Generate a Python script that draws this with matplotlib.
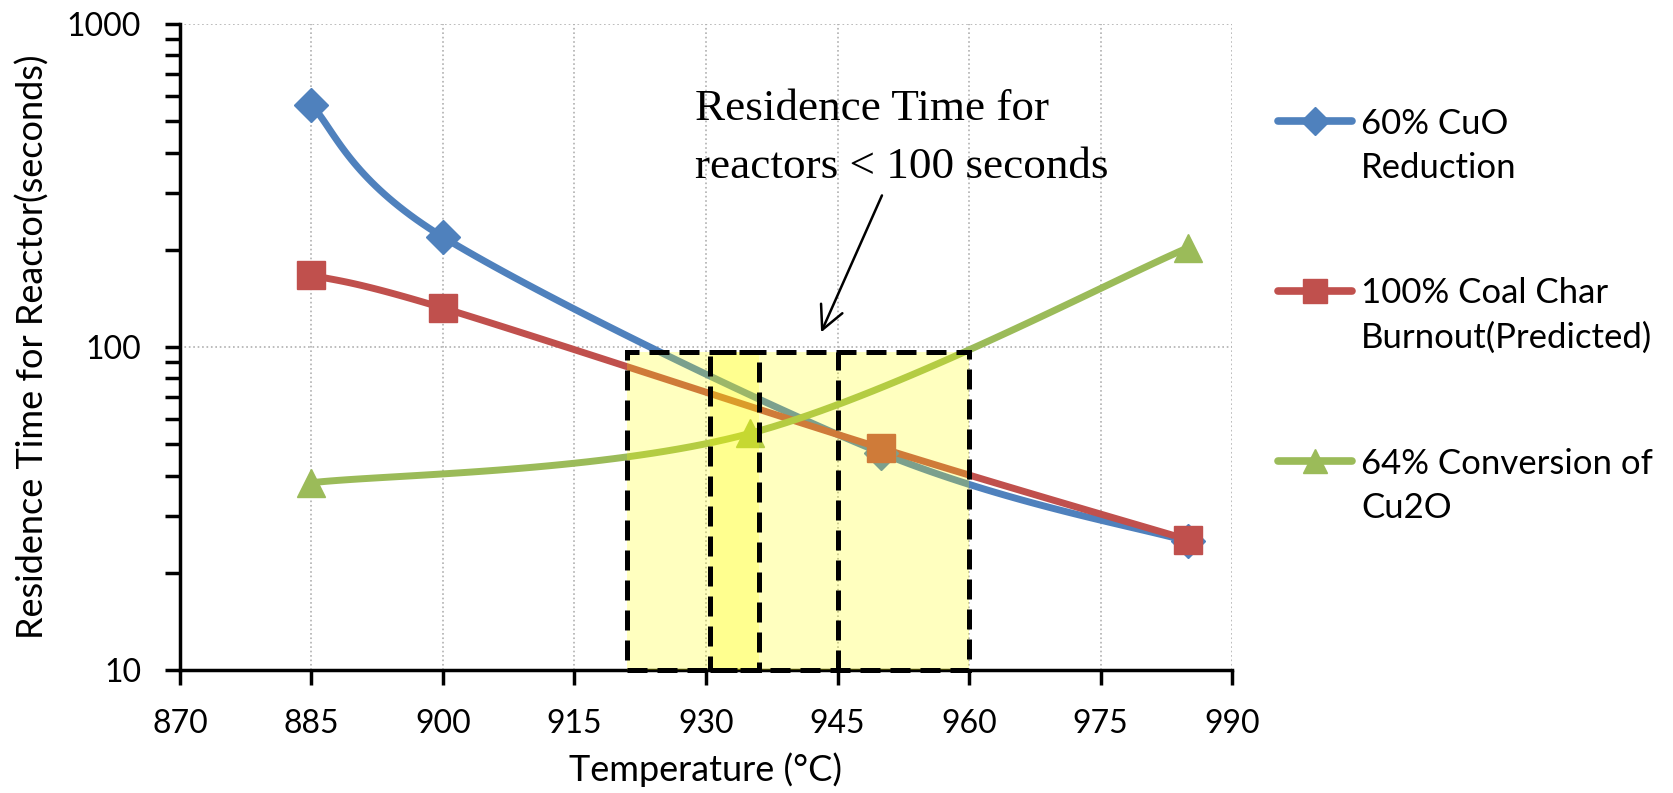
import matplotlib.pyplot as plt
from matplotlib.lines import Line2D
from matplotlib.patches import Rectangle
import numpy as np

# data (temperature in degC, residence time in seconds)
temp_cuo = [885, 900, 950, 985]
time_cuo = [560, 219, 47, 25]

temp_char = [885, 900, 950, 985]
time_char = [167, 132, 48.6, 25.3]

temp_cu2o = [885, 935, 985]
time_cu2o = [38, 54, 203]

labels = ["60% CuO\nReduction", "100% Coal Char\nBurnout(Predicted)", "64% Conversion of\nCu2O"]
colors = ["#4F81BD", "#C0504D", "#9BBB59"]
markers = ["D", "s", "^"]
marker_sizes = [17, 20, 20]

# highlighted windows (x ranges) below 100 s, plus the divider inside the big one
windows = [(921, 936), (930.5, 960)]
dividers = [945]
window_top = 96.7

plt.rcParams["font.family"] = ["Lato", "DejaVu Sans"]


def smooth(xs, ys, n=40):
    """excel-like smoothed line: bezier through the points, done in log-y space"""
    x = np.asarray(xs, float)
    y = np.log10(np.asarray(ys, float))
    px = np.concatenate([[x[0]], x, [x[-1]]])
    py = np.concatenate([[y[0]], y, [y[-1]]])
    out_x, out_y = [], []
    t = np.linspace(0, 1, n)
    for i in range(1, len(px) - 2):
        p0 = np.array([px[i], py[i]])
        p3 = np.array([px[i + 1], py[i + 1]])
        p1 = p0 + (p3 - np.array([px[i - 1], py[i - 1]])) / 6
        p2 = p3 - (np.array([px[i + 2], py[i + 2]]) - p0) / 6
        b = ((1 - t) ** 3)[:, None] * p0 + (3 * (1 - t) ** 2 * t)[:, None] * p1 \
            + (3 * (1 - t) * t ** 2)[:, None] * p2 + (t ** 3)[:, None] * p3
        out_x.extend(b[:, 0])
        out_y.extend(b[:, 1])
    return np.array(out_x), 10 ** np.array(out_y)


fig = plt.figure(figsize=(16.74, 7.93), dpi=100)
ax = fig.add_axes([180 / 1674, 1 - 670 / 793, (1232 - 180) / 1674, (670 - 24) / 793])

series = [(temp_cuo, time_cuo), (temp_char, time_char), (temp_cu2o, time_cu2o)]
for (xs, ys), c, m, ms in zip(series, colors, markers, marker_sizes):
    sx, sy = smooth(xs, ys)
    ax.plot(sx, sy, color=c, lw=5, solid_capstyle="round", zorder=3)
    ax.plot(xs, ys, ls="none", marker=m, ms=ms, color=c, mec=c, zorder=4)

# yellow windows sit on top of the lines (they tint them)
dash = (0, (4, 2))
for x0, x1 in windows:
    ax.add_patch(Rectangle((x0, 10), x1 - x0, window_top - 10, facecolor="yellow",
                           alpha=0.25, edgecolor="none", zorder=5))
    ax.add_patch(Rectangle((x0, 10), x1 - x0, window_top - 10, facecolor="none",
                           edgecolor="black", lw=3.6, ls=dash, zorder=6,
                           clip_on=False))
for xd in dividers:
    ax.plot([xd, xd], [10, window_top], color="black", lw=3.6, ls=dash, zorder=6)

ax.set_yscale("log")
ax.set_xlim(870, 990)
ax.set_ylim(10, 1000)
ax.set_xticks(np.arange(870, 991, 15))
ax.set_yticks([10, 100, 1000])
ax.set_yticklabels(["10", "100", "1000"])
ax.tick_params(axis="both", which="both", direction="out", length=11, width=2.5,
               labelsize=23, pad=17, color="black")
ax.tick_params(axis="y", which="minor", labelleft=False)
ax.grid(True, which="major", color="#b0b0b0", ls=":", lw=1.2)
for s in ["top", "right"]:
    ax.spines[s].set_visible(False)
for s in ["left", "bottom"]:
    ax.spines[s].set_linewidth(2.5)

ax.set_xlabel("Temperature (°C)", fontsize=26, labelpad=10)
ax.set_ylabel("Residence Time for Reactor(seconds)", fontsize=26, labelpad=12)

ax.annotate("", xy=(943.0, 109), xytext=(950.2, 300),
            arrowprops=dict(arrowstyle="->", color="black", lw=1.8,
                            mutation_scale=42), zorder=7)
# va="baseline" puts the last line's baseline at y
ax.text(928.7, 10 ** (3 - (178 - 24) / 323), "Residence Time for\nreactors < 100 seconds",
        family=["Liberation Serif", "DejaVu Serif"], fontsize=32.5,
        ha="left", va="baseline", linespacing=1.59, zorder=7)

# legend drawn by hand so the marker lines up with the first text line
legend_y = [121, 291, 461]
for ly, lab, c, m, ms in zip(legend_y, labels, colors, markers, marker_sizes):
    yf = 1 - ly / 793
    fig.add_artist(Line2D([1278 / 1674, 1352 / 1674], [yf, yf], color=c, lw=5.5,
                          solid_capstyle="round"))
    fig.add_artist(Line2D([1315 / 1674], [yf], marker=m, ms=ms * 0.85, color=c, mec=c))
    fig.text(1361 / 1674, 1 - (ly + 57) / 793, lab, fontsize=25, ha="left",
             va="baseline", linespacing=1.47)

fig.savefig("out.png", dpi=100)
